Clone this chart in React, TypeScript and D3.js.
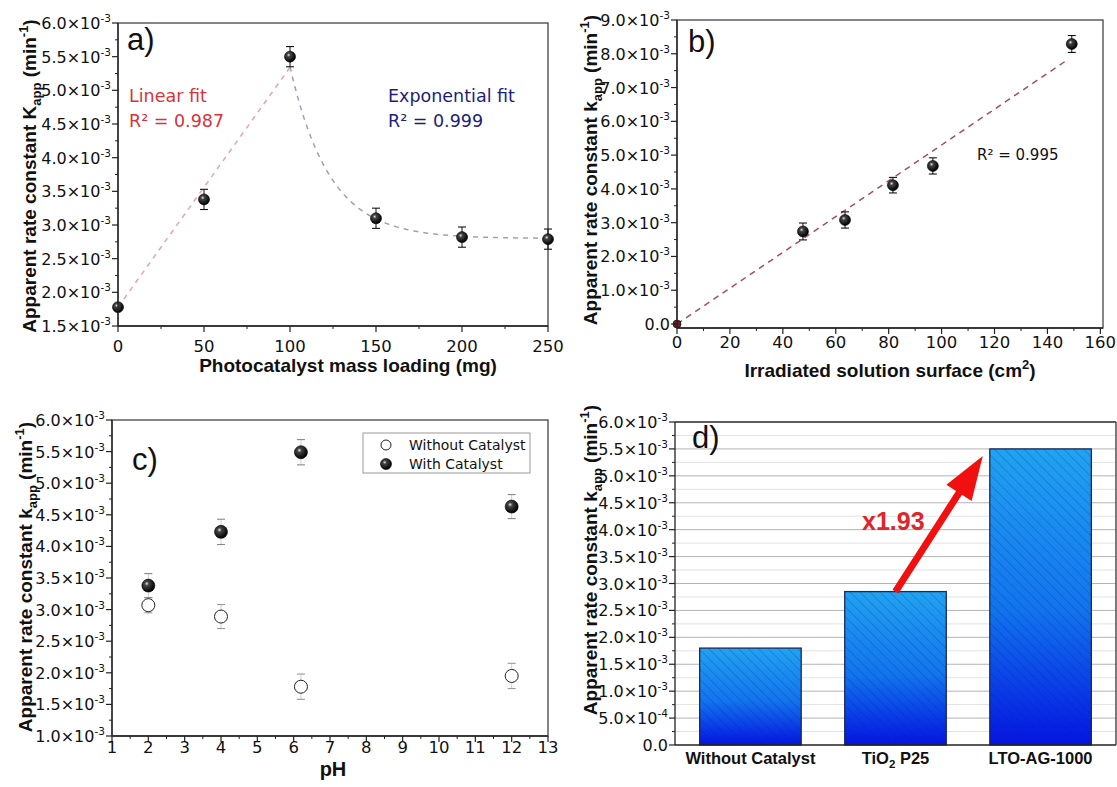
import React from 'react';
import * as d3 from 'd3';

const TICK_FONT = "'DejaVu Sans', sans-serif";
const TITLE_FONT = "'Liberation Sans', Arial, sans-serif";

// ---------- Panel a: photocatalyst mass loading ----------
const massLoading = [0, 50, 100, 150, 200, 250];
const kMass = [1.78e-3, 3.38e-3, 5.5e-3, 3.1e-3, 2.82e-3, 2.79e-3];
const kMassErr = [0, 0.15e-3, 0.15e-3, 0.15e-3, 0.15e-3, 0.15e-3];
const aXTicks = [0, 50, 100, 150, 200, 250];
const aYTicks = [1.5e-3, 2e-3, 2.5e-3, 3e-3, 3.5e-3, 4e-3, 4.5e-3, 5e-3, 5.5e-3, 6e-3];
const linFitA = { intercept: 1.78e-3, slope: 3.56e-5, from: 0, to: 100 };
const expFitA = { offset: 2.8e-3, amp: 2.55e-3, start: 100, tau: 23, to: 250 };

// ---------- Panel b: irradiated surface ----------
const surfaceArea = [0, 47.6, 63.5, 81.6, 96.7, 149.2];
const kSurface = [0, 2.74e-3, 3.08e-3, 4.11e-3, 4.68e-3, 8.29e-3];
const kSurfaceErr = [0, 0.25e-3, 0.24e-3, 0.23e-3, 0.24e-3, 0.25e-3];
const bXTicks = [0, 20, 40, 60, 80, 100, 120, 140, 160];
const bYTicks = [0, 1e-3, 2e-3, 3e-3, 4e-3, 5e-3, 6e-3, 7e-3, 8e-3, 9e-3];
const linFitB = { intercept: 0, slope: 5.3e-5, from: 0, to: 148 };

// ---------- Panel c: pH ----------
const pHValues = [2, 4, 6.2, 12];
const kWithout = [3.07e-3, 2.89e-3, 1.78e-3, 1.95e-3];
const kWithoutErr = [0.12e-3, 0.19e-3, 0.2e-3, 0.2e-3];
const kWith = [3.38e-3, 4.23e-3, 5.49e-3, 4.63e-3];
const kWithErr = [0.19e-3, 0.2e-3, 0.2e-3, 0.19e-3];
const cXTicks = [1, 2, 3, 4, 5, 6, 7, 8, 9, 10, 11, 12, 13];
const cYTicks = [1e-3, 1.5e-3, 2e-3, 2.5e-3, 3e-3, 3.5e-3, 4e-3, 4.5e-3, 5e-3, 5.5e-3, 6e-3];

// ---------- Panel d: bars ----------
const catalysts = ['Without Catalyst', 'TiO2 P25', 'LTO-AG-1000'];
const kCatalyst = [1.8e-3, 2.85e-3, 5.5e-3];
const dYTicks = [0, 5e-4, 1e-3, 1.5e-3, 2e-3, 2.5e-3, 3e-3, 3.5e-3, 4e-3, 4.5e-3, 5e-3, 5.5e-3, 6e-3];
const enhancement = 'x1.93';

const AXIS = '#222';

function SciText({ x, y, v, size = 16 }: { x: number; y: number; v: number; size?: number }) {
  if (Math.abs(v) < 1e-12) {
    return (
      <text x={x} y={y} textAnchor="end" fontFamily={TICK_FONT} fontSize={size} fill="#111">0.0</text>
    );
  }
  const e = Math.floor(Math.log10(Math.abs(v)) + 1e-9);
  const m = v / Math.pow(10, e);
  return (
    <text x={x} y={y} textAnchor="end" fontFamily={TICK_FONT} fontSize={size} fill="#111">
      {m.toFixed(1)}×10<tspan dy={-7} fontSize={size * 0.66}>{String(e)}</tspan>
    </text>
  );
}

function YAxis({ scale, ticks, x, y0, y1, minorSteps = 2 }: any) {
  const minors: number[] = [];
  for (let i = 0; i < ticks.length - 1; i++) {
    for (let k = 1; k < minorSteps; k++) minors.push(ticks[i] + ((ticks[i + 1] - ticks[i]) * k) / minorSteps);
  }
  return (
    <g>
      <line x1={x} x2={x} y1={y0} y2={y1} stroke={AXIS} strokeWidth={1.3} />
      {ticks.map((v: number, i: number) => (
        <g key={'t' + i}>
          <line x1={x - 6} x2={x} y1={scale(v)} y2={scale(v)} stroke={AXIS} strokeWidth={1.2} />
          <SciText x={x - 7} y={scale(v) + 6} v={v} />
        </g>
      ))}
      {minors.map((v, i) => (
        <line key={'m' + i} x1={x - 3} x2={x} y1={scale(v)} y2={scale(v)} stroke={AXIS} strokeWidth={1} />
      ))}
    </g>
  );
}

function XAxis({ scale, ticks, y, x0, x1, labelY, minorSteps = 2 }: any) {
  const minors: number[] = [];
  for (let i = 0; i < ticks.length - 1; i++) {
    for (let k = 1; k < minorSteps; k++) minors.push(ticks[i] + ((ticks[i + 1] - ticks[i]) * k) / minorSteps);
  }
  return (
    <g>
      <line x1={x0} x2={x1} y1={y} y2={y} stroke={AXIS} strokeWidth={1.3} />
      {ticks.map((v: number, i: number) => (
        <g key={'t' + i}>
          <line x1={scale(v)} x2={scale(v)} y1={y} y2={y + 6} stroke={AXIS} strokeWidth={1.2} />
          <text x={scale(v)} y={labelY} textAnchor="middle" fontFamily={TICK_FONT} fontSize={16.5} fill="#111">
            {v}
          </text>
        </g>
      ))}
      {minors.map((v, i) => (
        <line key={'m' + i} x1={scale(v)} x2={scale(v)} y1={y} y2={y + 3} stroke={AXIS} strokeWidth={1} />
      ))}
    </g>
  );
}

function YTitle({ x, y, k }: { x: number; y: number; k: string }) {
  return (
    <text
      transform={`translate(${x},${y}) rotate(-90)`}
      textAnchor="middle"
      fontFamily={TITLE_FONT}
      fontWeight="bold"
      fontSize={19}
      fill="#111"
    >
      Apparent rate constant {k}
      <tspan dy={5} fontSize={13}>app</tspan>
      <tspan dy={-5}> (min</tspan>
      <tspan dy={-8} fontSize={13}>-1</tspan>
      <tspan dy={8}>)</tspan>
    </text>
  );
}

function Sphere({ cx, cy, r = 5.5, fill = 'url(#sphere)' }: any) {
  return <circle cx={cx} cy={cy} r={r} fill={fill} stroke="#000" strokeWidth={0.6} />;
}

function ErrBar({ x, yLo, yHi, w = 4, color = '#111', capColor }: any) {
  return (
    <g>
      <line x1={x} x2={x} y1={yLo} y2={yHi} stroke={color} strokeWidth={1} />
      <line x1={x - w} x2={x + w} y1={yLo} y2={yLo} stroke={capColor || color} strokeWidth={1.1} />
      <line x1={x - w} x2={x + w} y1={yHi} y2={yHi} stroke={capColor || color} strokeWidth={1.1} />
    </g>
  );
}

function PanelA() {
  const x0 = 118, x1 = 548, y0 = 23, y1 = 326;
  const xs = d3.scaleLinear().domain([0, 250]).range([x0, x1]);
  const ys = d3.scaleLinear().domain([1.5e-3, 6e-3]).range([y1, y0]);
  const line = d3.line<[number, number]>().x((d) => xs(d[0])).y((d) => ys(d[1]));
  const linPts: [number, number][] = [linFitA.from, linFitA.to].map((m) => [m, linFitA.intercept + linFitA.slope * m]);
  const expPts: [number, number][] = d3
    .range(expFitA.start, expFitA.to + 0.1, 2)
    .map((m) => [m, expFitA.offset + expFitA.amp * Math.exp(-(m - expFitA.start) / expFitA.tau)]);
  return (
    <g>
      <rect x={x0} y={y0} width={x1 - x0} height={y1 - y0} fill="none" stroke="#444" strokeWidth={1.3} />
      <path d={line(linPts) || ''} fill="none" stroke="#e8a3ab" strokeWidth={1.5} strokeDasharray="5,5" />
      <path d={line(expPts) || ''} fill="none" stroke="#a0a0b2" strokeWidth={1.5} strokeDasharray="5,5" />
      {massLoading.map((m, i) => (
        <g key={i}>
          {kMassErr[i] > 0 && (
            <ErrBar x={xs(m)} yLo={ys(kMass[i] - kMassErr[i])} yHi={ys(kMass[i] + kMassErr[i])} />
          )}
          <Sphere cx={xs(m)} cy={ys(kMass[i])} />
        </g>
      ))}
      <YAxis scale={ys} ticks={aYTicks} x={x0} y0={y0} y1={y1} />
      <XAxis scale={xs} ticks={aXTicks} y={y1} x0={x0} x1={x1} labelY={352} />
      <text x={127} y={50} fontFamily={TITLE_FONT} fontSize={31} fill="#111">a)</text>
      <text x={129} y={102} fontFamily={TICK_FONT} fontSize={17.5} fill="#d8333b">Linear fit</text>
      <text x={129} y={127} fontFamily={TICK_FONT} fontSize={17.5} fill="#d8333b">R² = 0.987</text>
      <text x={388} y={102} fontFamily={TICK_FONT} fontSize={17.5} fill="#1e1e78">Exponential fit</text>
      <text x={388} y={127} fontFamily={TICK_FONT} fontSize={17.5} fill="#1e1e78">R² = 0.999</text>
      <YTitle x={36} y={176} k="K" />
      <text x={348} y={372} textAnchor="middle" fontFamily={TITLE_FONT} fontWeight="bold" fontSize={19} fill="#111">
        Photocatalyst mass loading (mg)
      </text>
    </g>
  );
}

function PanelB() {
  const x0 = 677, x1 = 1103, y0 = 20, y1 = 328;
  const xs = d3.scaleLinear().domain([0, 161]).range([x0, x1]);
  const ys = d3.scaleLinear().domain([-0.118e-3, 9e-3]).range([y1, y0]);
  const line = d3.line<[number, number]>().x((d) => xs(d[0])).y((d) => ys(d[1]));
  const fitPts: [number, number][] = [linFitB.from, linFitB.to].map((a) => [a, linFitB.intercept + linFitB.slope * a]);
  return (
    <g>
      <rect x={x0} y={y0} width={x1 - x0} height={y1 - y0} fill="none" stroke="#444" strokeWidth={1.3} />
      <path d={line(fitPts) || ''} fill="none" stroke="#a4505c" strokeWidth={1.5} strokeDasharray="6,5" />
      {surfaceArea.map((a, i) => (
        <g key={i}>
          {kSurfaceErr[i] > 0 && (
            <ErrBar x={xs(a)} yLo={ys(kSurface[i] - kSurfaceErr[i])} yHi={ys(kSurface[i] + kSurfaceErr[i])} />
          )}
          <Sphere cx={xs(a)} cy={ys(kSurface[i])} fill={i === 0 ? '#6a1c22' : 'url(#sphere)'} r={i === 0 ? 4 : 5.5} />
        </g>
      ))}
      <YAxis scale={ys} ticks={bYTicks} x={x0} y0={y0} y1={y1} />
      <XAxis scale={xs} ticks={bXTicks} y={y1} x0={x0} x1={x1} labelY={348} />
      <text x={688} y={52} fontFamily={TITLE_FONT} fontSize={31} fill="#111">b)</text>
      <text x={977} y={160} fontFamily={TICK_FONT} fontSize={15} fill="#111">R² = 0.995</text>
      <YTitle x={597} y={170} k="k" />
      <text x={890} y={377} textAnchor="middle" fontFamily={TITLE_FONT} fontWeight="bold" fontSize={19} fill="#111">
        Irradiated solution surface (cm<tspan dy={-8} fontSize={13}>2</tspan><tspan dy={8}>)</tspan>
      </text>
    </g>
  );
}

function PanelC() {
  const x0 = 112, x1 = 548, y0 = 420, y1 = 736;
  const xs = d3.scaleLinear().domain([1, 13]).range([x0, x1]);
  const ys = d3.scaleLinear().domain([1e-3, 6e-3]).range([y1, y0]);
  return (
    <g>
      <rect x={x0} y={y0} width={x1 - x0} height={y1 - y0} fill="none" stroke="#444" strokeWidth={1.3} />
      {pHValues.map((p, i) => (
        <g key={i}>
          <ErrBar x={xs(p)} yLo={ys(kWithout[i] - kWithoutErr[i])} yHi={ys(kWithout[i] + kWithoutErr[i])} color="#d0d0d0" capColor="#999" />
          <ErrBar x={xs(p)} yLo={ys(kWith[i] - kWithErr[i])} yHi={ys(kWith[i] + kWithErr[i])} color="#d0d0d0" capColor="#888" />
          <circle cx={xs(p)} cy={ys(kWithout[i])} r={6.5} fill="#fff" stroke="#222" strokeWidth={1} />
          <Sphere cx={xs(p)} cy={ys(kWith[i])} r={6.5} />
        </g>
      ))}
      <YAxis scale={ys} ticks={cYTicks} x={x0} y0={y0} y1={y1} />
      <XAxis scale={xs} ticks={cXTicks} y={y1} x0={x0} x1={x1} labelY={753} />
      <rect x={363} y={433} width={167} height={40} fill="#fff" stroke="#999" strokeWidth={1} />
      <circle cx={386} cy={445} r={5} fill="#fff" stroke="#222" strokeWidth={1} />
      <Sphere cx={386} cy={464} r={5.5} />
      <text x={409} y={450} fontFamily={TICK_FONT} fontSize={14} fill="#111">Without Catalyst</text>
      <text x={409} y={469} fontFamily={TICK_FONT} fontSize={14} fill="#111">With Catalyst</text>
      <text x={132} y={470} fontFamily={TITLE_FONT} fontSize={31} fill="#111">c)</text>
      <YTitle x={32} y={577} k="k" />
      <text x={333} y={776} textAnchor="middle" fontFamily={TITLE_FONT} fontWeight="bold" fontSize={20} fill="#111">
        pH
      </text>
    </g>
  );
}

function PanelD() {
  const x0 = 675, x1 = 1116, y0 = 422, y1 = 745;
  const xs = d3.scaleBand<string>().domain(catalysts).range([x0, x1]).paddingInner(0.3).paddingOuter(0.17);
  const ys = d3.scaleLinear().domain([0, 6e-3]).range([y1, y0]);
  const grid = d3.range(0, 6e-3 + 1e-9, 0.25e-3).slice(1);
  const bw = xs.bandwidth();
  // arrow from the TiO2 bar top to the LTO bar
  const sx = (xs(catalysts[1]) as number) + bw / 2;
  const sy = ys(kCatalyst[1]);
  const tx = (xs(catalysts[2]) as number) - 7;
  const ty = ys(5.37e-3);
  const dx = tx - sx, dy = ty - sy;
  const len = Math.hypot(dx, dy);
  const ux = dx / len, uy = dy / len;
  const px = -uy, py = ux;
  const headLen = 44, headHalf = 15, shaftHalf = 3.5;
  const bx = tx - ux * headLen, by = ty - uy * headLen;
  const pts = [
    [sx + px * shaftHalf, sy + py * shaftHalf],
    [bx + px * shaftHalf, by + py * shaftHalf],
    [bx + px * headHalf, by + py * headHalf],
    [tx, ty],
    [bx - px * headHalf, by - py * headHalf],
    [bx - px * shaftHalf, by - py * shaftHalf],
    [sx - px * shaftHalf, sy - py * shaftHalf],
  ]
    .map((p) => p.join(','))
    .join(' ');
  return (
    <g>
      {grid.map((v, i) => (
        <line
          key={i}
          x1={x0}
          x2={x1}
          y1={ys(v)}
          y2={ys(v)}
          stroke={i % 2 === 1 ? '#b4b4b4' : '#e2e2e2'}
          strokeWidth={1}
        />
      ))}
      {catalysts.map((c, i) => {
        const x = xs(c) as number;
        const y = ys(kCatalyst[i]);
        const h = y1 - y;
        return (
          <g key={c}>
            <rect x={x} y={y} width={bw} height={h} fill="url(#barGrad)" />
            <rect x={x} y={y} width={bw} height={h} fill="url(#hatch)" />
            <rect x={x} y={y} width={bw} height={h} fill="none" stroke="#1b2a5e" strokeWidth={1.3} />
          </g>
        );
      })}
      <polygon points={pts} fill="#f01010" />
      <text x={862} y={530} fontFamily={TITLE_FONT} fontWeight="bold" fontSize={25} fill="#e0242a">
        {enhancement}
      </text>
      <line x1={x0} x2={x1} y1={y0} y2={y0} stroke="#333" strokeWidth={1.3} />
      <line x1={x1} x2={x1} y1={y0} y2={y1} stroke="#333" strokeWidth={1.3} />
      <YAxis scale={ys} ticks={dYTicks} x={x0} y0={y0} y1={y1} />
      <line x1={x0} x2={x1} y1={y1} y2={y1} stroke={AXIS} strokeWidth={1.3} />
      {catalysts.map((c) => {
        const cx = (xs(c) as number) + bw / 2;
        return (
          <text key={c} x={cx} y={764} textAnchor="middle" fontFamily={TITLE_FONT} fontWeight="bold" fontSize={16.5} fill="#111">
            {c === 'TiO2 P25' ? (
              <>
                TiO<tspan dy={4} fontSize={11.5}>2</tspan>
                <tspan dy={-4}> P25</tspan>
              </>
            ) : (
              c
            )}
          </text>
        );
      })}
      <text x={692} y={448} fontFamily={TITLE_FONT} fontSize={31} fill="#111">d)</text>
      <YTitle x={597} y={560} k="k" />
    </g>
  );
}

export default function App() {
  return (
    <svg
      width={1117}
      height={787}
      viewBox="0 0 1117 787"
      style={{ position: 'absolute', left: 0, top: 0, background: '#fff' }}
    >
      <defs>
        <radialGradient id="sphere" cx="38%" cy="35%" r="65%">
          <stop offset="0%" stopColor="#e8e8e8" />
          <stop offset="25%" stopColor="#444" />
          <stop offset="100%" stopColor="#000" />
        </radialGradient>
        <linearGradient id="barGrad" x1="0" y1="0" x2="0" y2="1">
          <stop offset="0%" stopColor="#21a3f2" />
          <stop offset="55%" stopColor="#1173ee" />
          <stop offset="100%" stopColor="#0414e2" />
        </linearGradient>
        <pattern id="hatch" patternUnits="userSpaceOnUse" width={7} height={7} patternTransform="rotate(-45)">
          <line x1={0} y1={0} x2={0} y2={7} stroke="#0b2470" strokeWidth={1} strokeOpacity={0.45} />
        </pattern>
      </defs>
      <rect x={0} y={0} width={1117} height={787} fill="#fff" />
      <PanelA />
      <PanelB />
      <PanelC />
      <PanelD />
    </svg>
  );
}
